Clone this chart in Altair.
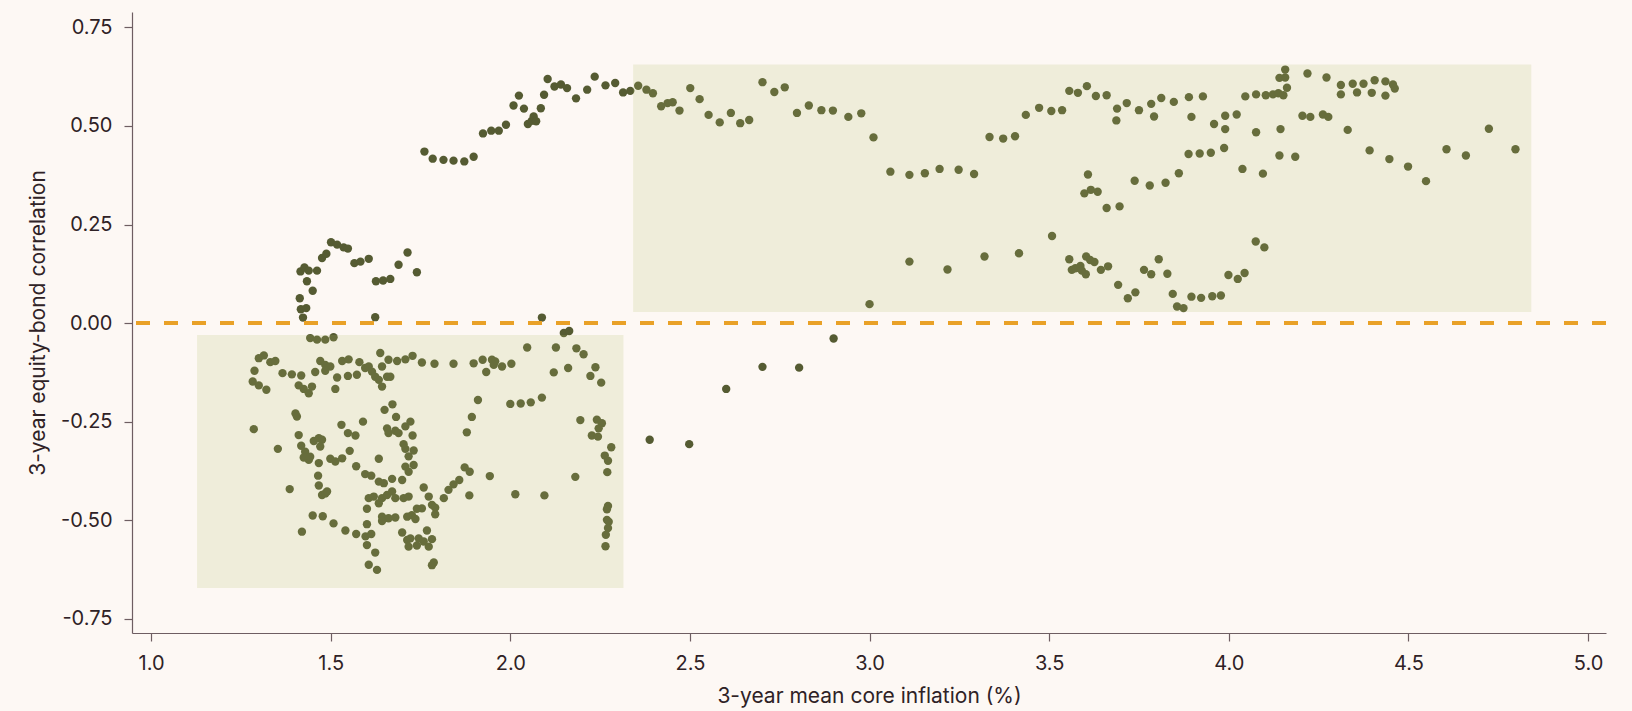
import altair as alt
import pandas as pd

# --- low-inflation cluster (left box) ---
low_x = [1.443, 1.462, 1.485, 1.508, 1.300, 1.314, 1.332, 1.346, 1.288, 1.283, 1.300, 1.321,
         1.366, 1.392, 1.418, 1.457, 1.471, 1.485, 1.499, 1.485, 1.411, 1.425, 1.439, 1.448,
         1.518, 1.513, 1.532, 1.550, 1.580, 1.548, 1.573, 1.596, 1.606, 1.615, 1.624, 1.634,
         1.643, 1.638, 1.643, 1.657, 1.666, 1.661, 1.685, 1.708, 1.402, 1.406, 1.286, 1.411,
         1.453, 1.467, 1.476, 1.471, 1.353, 1.418, 1.429, 1.425, 1.439, 1.443, 1.467, 1.499,
         1.513, 1.532, 1.553, 1.530, 1.548, 1.569, 1.590, 1.650, 1.672, 1.682, 1.657, 1.661,
         1.680, 1.689, 1.708, 1.722, 1.703, 1.708, 1.717, 1.708, 1.717, 1.634, 1.571, 1.596,
         1.613, 1.465, 1.467, 1.476, 1.485, 1.490, 1.386, 1.634, 1.648, 1.671, 1.699, 1.606,
         1.620, 1.634, 1.643, 1.657, 1.671, 1.680, 1.703, 1.717, 1.601, 1.643, 1.661, 1.680,
         1.643, 1.713, 1.450, 1.478, 1.508, 1.541, 1.571, 1.420, 1.601, 1.597, 1.613, 1.601,
         1.624, 1.606, 1.629, 1.699, 1.713, 1.717,
         2.149, 2.164, 2.047, 2.127, 2.184, 2.204, 1.728, 1.754, 1.789, 1.842, 1.898, 1.923,
         1.949, 1.958, 1.954, 1.977, 2.003, 1.933, 2.121, 2.161, 2.237, 2.223, 2.253, 1.910,
         2.000, 2.029, 2.057, 2.088, 1.893, 1.879, 2.195, 2.241, 2.255, 2.246, 2.227, 2.244,
         2.281, 2.263, 2.272, 2.270, 2.181, 1.873, 1.887, 1.943, 1.858, 1.842, 1.828, 1.815,
         1.886, 2.014, 2.095, 2.272, 2.269, 2.269, 2.274, 2.272, 2.266, 2.265, 1.728, 1.731,
         1.731, 1.759, 1.773, 1.754, 1.740, 1.782, 1.791, 1.791, 1.726, 1.736, 1.768, 1.782,
         1.722, 1.745, 1.759, 1.773, 1.740, 1.787, 1.782]
low_y = [-0.038, -0.042, -0.042, -0.036, -0.089, -0.082, -0.099, -0.096, -0.121, -0.148, -0.158, -0.169,
         -0.127, -0.130, -0.133, -0.124, -0.096, -0.106, -0.110, -0.121, -0.158, -0.167, -0.178, -0.161,
         -0.138, -0.167, -0.096, -0.092, -0.099, -0.134, -0.131, -0.114, -0.110, -0.123, -0.136, -0.144,
         -0.161, -0.076, -0.110, -0.136, -0.136, -0.093, -0.096, -0.092, -0.229, -0.237, -0.269, -0.284,
         -0.299, -0.292, -0.296, -0.313, -0.319, -0.311, -0.326, -0.341, -0.347, -0.339, -0.355, -0.344,
         -0.351, -0.343, -0.324, -0.258, -0.279, -0.285, -0.250, -0.220, -0.206, -0.238, -0.267, -0.279,
         -0.273, -0.279, -0.262, -0.250, -0.307, -0.319, -0.338, -0.364, -0.377, -0.344, -0.363, -0.383,
         -0.387, -0.387, -0.412, -0.436, -0.432, -0.427, -0.421, -0.402, -0.406, -0.395, -0.398, -0.444,
         -0.440, -0.457, -0.444, -0.436, -0.427, -0.444, -0.444, -0.440, -0.471, -0.491, -0.495, -0.493,
         -0.502, -0.491, -0.488, -0.490, -0.508, -0.526, -0.535, -0.529, -0.510, -0.541, -0.535, -0.563,
         -0.582, -0.613, -0.626, -0.531, -0.550, -0.567,
         -0.025, -0.020, -0.062, -0.062, -0.064, -0.079, -0.083, -0.100, -0.103, -0.103, -0.102, -0.093,
         -0.093, -0.097, -0.106, -0.110, -0.103, -0.124, -0.125, -0.114, -0.112, -0.134, -0.151, -0.195,
         -0.205, -0.204, -0.201, -0.189, -0.238, -0.277, -0.246, -0.245, -0.254, -0.267, -0.285, -0.288,
         -0.315, -0.336, -0.349, -0.378, -0.390, -0.366, -0.377, -0.388, -0.398, -0.409, -0.423, -0.444,
         -0.437, -0.434, -0.437, -0.464, -0.472, -0.499, -0.504, -0.520, -0.537, -0.566, -0.285, -0.323,
         -0.360, -0.417, -0.440, -0.470, -0.471, -0.461, -0.468, -0.485, -0.487, -0.497, -0.526, -0.548,
         -0.546, -0.546, -0.554, -0.567, -0.564, -0.607, -0.614]

# --- early positive excursion (about 1.4-1.75 %) ---
early_x = [1.501, 1.518, 1.536, 1.548, 1.476, 1.488, 1.416, 1.427, 1.439, 1.462, 1.434, 1.450,
           1.414, 1.417, 1.432, 1.423, 1.566, 1.583, 1.606, 1.626, 1.646, 1.666, 1.689, 1.714,
           1.740, 1.624, 2.088]
early_y = [0.205, 0.199, 0.192, 0.189, 0.165, 0.176, 0.131, 0.141, 0.133, 0.133, 0.106, 0.082,
           0.063, 0.035, 0.038, 0.014, 0.152, 0.156, 0.163, 0.106, 0.108, 0.112, 0.148, 0.179,
           0.129, 0.015, 0.014]

# --- rising path to the high-correlation regime ---
path_x = [1.761, 1.784, 1.814, 1.842, 1.872, 1.898, 1.924, 1.947, 1.968, 1.988, 2.009, 2.024,
          2.038, 2.049, 2.060, 2.065, 2.072, 2.085, 2.094, 2.104, 2.123, 2.141, 2.158, 2.183,
          2.214, 2.235, 2.265, 2.292, 2.314, 2.334, 2.356, 2.379, 2.397, 2.420, 2.438,
          2.388, 2.498, 2.601, 2.702, 2.804, 2.900]
path_y = [0.435, 0.417, 0.414, 0.412, 0.410, 0.422, 0.481, 0.488, 0.488, 0.503, 0.552, 0.577,
          0.544, 0.505, 0.513, 0.524, 0.512, 0.545, 0.579, 0.619, 0.600, 0.605, 0.596, 0.570,
          0.592, 0.625, 0.603, 0.609, 0.585, 0.589, 0.602, 0.592, 0.583, 0.550, 0.558,
          -0.296, -0.307, -0.167, -0.111, -0.113, -0.039]

# --- high-inflation cluster (right box) ---
high_x = [2.452, 2.471, 2.501, 2.527, 2.552, 2.583, 2.614, 2.640, 2.665, 2.702, 2.735, 2.764,
          2.798, 2.831, 2.866, 2.898, 2.941, 2.977, 3.011, 3.058, 3.111, 3.154, 3.195, 3.111,
          3.000,
          3.248, 3.291, 3.334, 3.372, 3.405, 3.435, 3.472, 3.506, 3.536, 3.556, 3.580, 3.605,
          3.630, 3.660, 3.689, 3.716, 3.687, 3.750, 3.784, 3.812, 3.847, 3.792, 3.889, 3.928,
          3.896, 3.959, 3.990, 4.022, 3.990, 4.046, 3.888, 3.919, 3.950, 3.987, 4.038, 3.608,
          3.598, 3.616, 3.635, 3.660, 3.696, 3.738, 3.780, 3.824, 3.861, 3.508, 3.320, 3.416,
          3.217, 3.556, 3.563, 3.573, 3.587, 3.603, 3.614, 3.626, 3.602, 3.591, 3.644, 3.664,
          3.692, 3.719, 3.740, 3.764, 3.784, 3.805, 3.829, 3.844, 3.856, 3.874, 3.896, 3.923,
          3.954, 3.978, 3.999, 4.025, 4.044,
          4.076, 4.103, 4.123, 4.138, 4.152, 4.162, 4.141, 4.157, 4.157, 4.219, 4.272, 4.312,
          4.345, 4.375, 4.406, 4.436, 4.457, 4.462, 4.312, 4.357, 4.398, 4.436, 4.205, 4.227,
          4.262, 4.277, 4.076, 4.144, 4.331, 4.141, 4.185, 4.095, 4.392, 4.447, 4.499, 4.549,
          4.606, 4.660, 4.724, 4.798, 4.075, 4.099]
high_y = [0.560, 0.539, 0.596, 0.568, 0.528, 0.509, 0.533, 0.507, 0.515, 0.611, 0.586, 0.598,
          0.533, 0.552, 0.540, 0.539, 0.523, 0.532, 0.471, 0.384, 0.376, 0.380, 0.391, 0.156,
          0.048,
          0.389, 0.378, 0.472, 0.468, 0.474, 0.528, 0.546, 0.538, 0.540, 0.589, 0.584, 0.601,
          0.576, 0.578, 0.544, 0.558, 0.514, 0.540, 0.556, 0.571, 0.561, 0.524, 0.573, 0.575,
          0.523, 0.505, 0.526, 0.529, 0.492, 0.575, 0.429, 0.430, 0.432, 0.444, 0.391, 0.377,
          0.329, 0.338, 0.333, 0.292, 0.296, 0.361, 0.349, 0.356, 0.380, 0.221, 0.169, 0.177,
          0.136, 0.162, 0.135, 0.139, 0.145, 0.169, 0.160, 0.155, 0.124, 0.133, 0.135, 0.144,
          0.097, 0.063, 0.078, 0.135, 0.124, 0.162, 0.125, 0.074, 0.042, 0.038, 0.067, 0.064,
          0.068, 0.070, 0.122, 0.112, 0.127,
          0.580, 0.578, 0.580, 0.583, 0.578, 0.597, 0.622, 0.623, 0.643, 0.633, 0.623, 0.604,
          0.607, 0.607, 0.616, 0.613, 0.605, 0.595, 0.580, 0.585, 0.584, 0.577, 0.526, 0.523,
          0.529, 0.523, 0.484, 0.492, 0.490, 0.425, 0.422, 0.379, 0.438, 0.416, 0.397, 0.360,
          0.441, 0.425, 0.493, 0.441, 0.207, 0.192]

# --- highlighted regimes (boxes) ---
box_x_start = [1.128, 2.342]
box_x_end = [2.315, 4.842]
box_y_low = [-0.672, 0.028]
box_y_high = [-0.030, 0.656]

x_ticks = [1.0, 1.5, 2.0, 2.5, 3.0, 3.5, 4.0, 4.5, 5.0]
y_ticks = [-0.75, -0.5, -0.25, 0.0, 0.25, 0.5, 0.75]
x_domain = [0.947, 5.05]
y_domain = [-0.786, 0.789]

pts = pd.DataFrame({
    "x": low_x + early_x + path_x + high_x,
    "y": low_y + early_y + path_y + high_y,
})
boxes = pd.DataFrame({"x0": box_x_start, "x1": box_x_end, "y0": box_y_low, "y1": box_y_high})
zero = pd.DataFrame({"y": [0.0]})

FONT = "Inter"
TEXT = "#2f2226"
AXIS = "#6e5e62"

xs = alt.Scale(domain=x_domain, nice=False, zero=False)
ys = alt.Scale(domain=y_domain, nice=False, zero=False)

x_axis = alt.Axis(values=x_ticks, format=".1f", title="3-year mean core inflation (%)",
                  labelPadding=12, titlePadding=12)
y_axis = alt.Axis(values=y_ticks, title="3-year equity-bond correlation",
                  labelExpr="datum.value < 0 ? '-' + format(abs(datum.value), '.2f') : format(datum.value, '.2f')",
                  labelPadding=12, titlePadding=12)

points = alt.Chart(pts).mark_circle(size=70, opacity=1, color="#555b32").encode(
    x=alt.X("x:Q", scale=xs, axis=x_axis),
    y=alt.Y("y:Q", scale=ys, axis=y_axis),
)

rects = alt.Chart(boxes).mark_rect(color="#b3be6b", opacity=0.19).encode(
    x=alt.X("x0:Q", scale=xs),
    x2="x1:Q",
    y=alt.Y("y0:Q", scale=ys),
    y2="y1:Q",
)

rule = alt.Chart(zero).mark_rule(color="#e9a127", strokeWidth=4, strokeDash=[14, 14]).encode(
    y=alt.Y("y:Q", scale=ys)
)

chart = alt.layer(points, rects, rule).properties(
    width=1474,
    height=621,
    autosize=alt.AutoSizeParams(type="none"),
    padding={"left": 132, "top": 12, "right": 26, "bottom": 78},
    background="#fdf8f4",
).configure_view(strokeWidth=0).configure_axis(
    grid=False,
    domainColor=AXIS,
    domainWidth=1.2,
    tickColor=AXIS,
    tickSize=8,
    tickWidth=1.2,
    labelFont=FONT,
    labelFontSize=20,
    labelColor=TEXT,
    titleFont=FONT,
    titleFontSize=21,
    titleFontWeight="normal",
    titleColor=TEXT,
)

chart.save("out.html", embed_options={"renderer": "svg", "actions": False})
